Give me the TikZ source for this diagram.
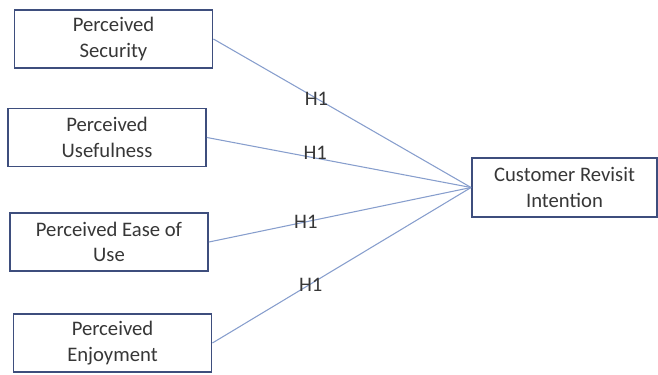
\documentclass[tikz,border=0pt]{standalone}
\usepackage{fontspec}
\setmainfont{Carlito}
\definecolor{boxline}{RGB}{62,78,125}
\definecolor{hypline}{RGB}{135,158,205}
\definecolor{boxtext}{RGB}{55,55,55}

\begin{document}
\begin{tikzpicture}[x=0.75pt, y=-0.75pt,
  factor/.style={draw=boxline, line width=1.4pt, fill=white, align=center,
    minimum width=148.5pt, minimum height=43.5pt, inner sep=0pt,
    text=boxtext, font=\fontsize{15.5}{19}\selectfont},
  hyp/.style={draw=hypline, line width=0.8pt},
  hlabel/.style={text=boxtext, inner sep=1pt, font=\fontsize{15.5}{19}\selectfont}]
\useasboundingbox (0,0) rectangle (658,375);

% constructs
\node[factor] (security) at (113.5,39) {Perceived\\Security};
\node[factor] (usefulness) at (107,137.5) {Perceived\\Usefulness};
\node[factor] (ease) at (109,242) {Perceived Ease of\\Use};
\node[factor] (enjoyment) at (112.5,343) {Perceived\\Enjoyment};
\node[factor, minimum width=138.75pt, minimum height=44.25pt] (revisit)
  at (564.5,187.5) {Customer Revisit\\Intention};

% hypotheses
\draw[hyp] (security.east) -- node[hlabel, pos=0.4] (h1a) {H1} (revisit.west);
\draw[hyp] (usefulness.east) -- node[hlabel, pos=0.41, yshift=4pt] (h1b) {H1} (revisit.west);
\draw[hyp] (ease.east) -- node[hlabel, pos=0.37] (h1c) {H1} (revisit.west);
\draw[hyp] (enjoyment.east) -- node[hlabel, pos=0.38, yshift=-1pt] (h1d) {H1} (revisit.west);
\end{tikzpicture}
\end{document}
